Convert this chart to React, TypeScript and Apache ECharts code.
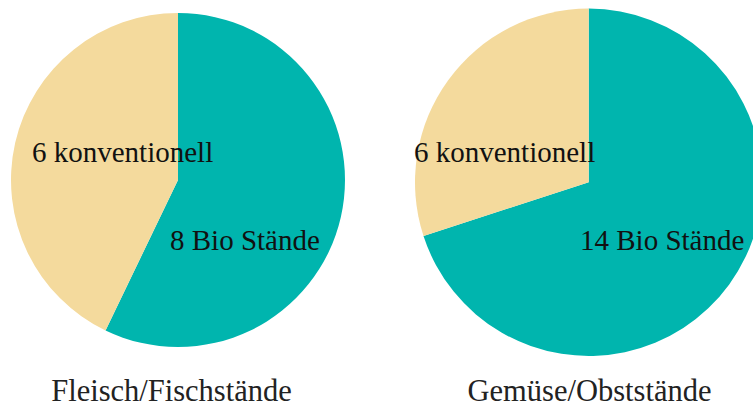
import React, { useEffect, useRef } from "react";
import * as echarts from "echarts";

const groups = ["Fleisch/Fischstände", "Gemüse/Obststände"];
const bioValues = [8, 14];
const konvValues = [6, 6];
const bioSuffix = "Bio Stände";
const konvSuffix = "konventionell";

const TEAL = "#00B5AE";
const BEIGE = "#F4DA9D";
const FONT = "'Liberation Serif', 'Times New Roman', serif";

// layout (pixels)
const centers: [number, number][] = [
  [178, 180],
  [588.7, 182.3],
];
const radii = [167, 173.7];
const labelPos: { x: number; y: number }[][] = [
  [
    { x: 170, y: 240 },
    { x: 32, y: 152 },
  ],
  [
    { x: 580, y: 240 },
    { x: 414, y: 152 },
  ],
];
const titleX = [171.5, 589.5];
const titleY = 391;

export default function App() {
  const ref = useRef<HTMLDivElement>(null);
  useEffect(() => {
    document.body.style.margin = "0";
    if (!ref.current) return;
    const chart = echarts.init(ref.current, undefined, { renderer: "svg" });
    const series = groups.map((g, i) => ({
      type: "pie" as const,
      name: g,
      center: centers[i],
      radius: [0, radii[i]],
      startAngle: 90,
      clockwise: true,
      silent: true,
      emphasis: { disabled: true },
      label: {
        show: true,
        position: "inside",
        color: "#111",
        fontFamily: FONT,
        fontSize: 29,
        formatter: (p: any) =>
          `${p.value} ${p.dataIndex === 0 ? bioSuffix : konvSuffix}`,
      },
      labelLine: { show: false },
      labelLayout: (p: any) => {
        const pos = labelPos[p.seriesIndex][p.dataIndex];
        return { x: pos.x, y: pos.y, align: "left", verticalAlign: "middle" };
      },
      itemStyle: { borderWidth: 0 },
      data: [
        { name: bioSuffix, value: bioValues[i], itemStyle: { color: TEAL } },
        { name: konvSuffix, value: konvValues[i], itemStyle: { color: BEIGE } },
      ],
    }));
    chart.setOption({
      animation: false,
      backgroundColor: "#ffffff",
      series,
      graphic: groups.map((g, i) => ({
        type: "text",
        x: titleX[i],
        y: titleY,
        silent: true,
        style: {
          text: g,
          fill: "#222",
          font: `30.5px ${FONT}`,
          align: "center",
          verticalAlign: "middle",
        },
      })),
    });
    return () => chart.dispose();
  }, []);
  return <div ref={ref} style={{ width: 753, height: 407 }} />;
}
